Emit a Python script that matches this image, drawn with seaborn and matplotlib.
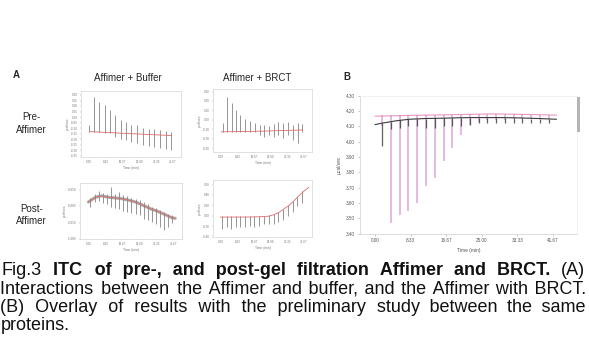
import numpy as np
import matplotlib
matplotlib.use("Agg")
import matplotlib.pyplot as plt
import seaborn as sns
from matplotlib.transforms import IdentityTransform
from matplotlib.patches import Rectangle

# ---------------- data ----------------
time_ticks = [0.0, 8.33, 16.67, 25.0, 33.33, 41.67]
time_ticklabels = ["0.00", "8.33", "16.67", "25.00", "33.33", "41.67"]

# Panel A1: pre-Affimer + buffer (normalised signal)
a1_inj_t = [0.0, 2.2, 5.0, 8.0, 10.5, 13.0, 15.8, 18.3, 20.8, 23.8, 26.7, 29.7, 32.5, 35.0, 38.0, 40.8]
a1_top = [0.49, 0.91, 0.84, 0.79, 0.71, 0.64, 0.56, 0.53, 0.49, 0.48, 0.44, 0.43, 0.42, 0.41, 0.39, 0.38]
a1_bot = [0.38, 0.38, 0.38, 0.37, 0.37, 0.31, 0.28, 0.26, 0.23, 0.21, 0.18, 0.17, 0.15, 0.13, 0.12, 0.11]
a1_base_t = [0.0, 10.0, 20.0, 30.0, 41.0]
a1_base = [0.385, 0.37, 0.355, 0.34, 0.325]
a1_yticks = [0.02, 0.104, 0.187, 0.271, 0.355, 0.438, 0.522, 0.605, 0.689, 0.773, 0.856, 0.94]
a1_yticklabels = ["-0.35", "-0.30", "-0.25", "-0.20", "-0.15", "-0.10", "-0.05", "0.00", "0.05", "0.10", "0.15", "0.20"]

# Panel A2: pre-Affimer + BRCT
a2_inj_t = [0.8, 3.0, 5.3, 7.6, 9.7, 12.1, 14.6, 16.8, 19.3, 21.5, 23.9, 26.4, 28.6, 31.1, 33.6, 36.1, 38.6, 40.6]
a2_top = [0.46, 0.88, 0.77, 0.67, 0.59, 0.53, 0.49, 0.46, 0.43, 0.43, 0.42, 0.44, 0.47, 0.46, 0.48, 0.43, 0.46, 0.44]
a2_bot = [0.32, 0.32, 0.32, 0.32, 0.32, 0.32, 0.32, 0.32, 0.27, 0.24, 0.27, 0.24, 0.27, 0.22, 0.27, 0.19, 0.14, 0.32]
a2_base_t = [0.0, 10.0, 20.0, 30.0, 41.0]
a2_base = [0.32, 0.325, 0.33, 0.34, 0.35]
a2_yticks = [0.06, 0.21, 0.36, 0.51, 0.66, 0.81, 0.957]
a2_yticklabels = ["-0.30", "-0.20", "-0.10", "0.00", "0.10", "0.20", "0.30"]

# Panel A3: post-Affimer + buffer
a3_inj_t = [1.0, 3.0, 5.0, 7.0, 9.0, 11.0, 13.0, 15.0, 17.0, 19.0, 21.0, 23.0, 25.0, 27.0, 29.0, 31.0, 33.0, 35.0, 37.0, 39.0, 41.0]
a3_top = [0.74, 0.80, 0.86, 0.82, 0.80, 0.92, 0.80, 0.84, 0.78, 0.76, 0.74, 0.72, 0.70, 0.66, 0.62, 0.58, 0.56, 0.52, 0.48, 0.44, 0.42]
a3_bot = [0.58, 0.66, 0.68, 0.64, 0.62, 0.58, 0.56, 0.54, 0.50, 0.48, 0.46, 0.44, 0.42, 0.36, 0.34, 0.30, 0.26, 0.22, 0.16, 0.22, 0.28]
a3_base_t = [0.0, 1.6, 3.2, 4.9, 6.5, 9.0, 11.4, 13.9, 16.3, 18.8, 21.2, 23.7, 26.1, 28.6, 31.0, 33.5, 35.9, 38.4, 40.8, 42.4]
a3_base = [0.66, 0.70, 0.74, 0.76, 0.77, 0.75, 0.74, 0.73, 0.72, 0.70, 0.68, 0.65, 0.61, 0.57, 0.53, 0.50, 0.46, 0.42, 0.38, 0.37]
a3_yticks = [0.0, 0.29, 0.59, 0.88]
a3_yticklabels = ["-1.000", "-0.950", "-0.900", "-0.850"]

# Panel A4: post-Affimer + BRCT
a4_inj_t = [0.4, 2.9, 5.1, 7.5, 9.7, 12.2, 14.4, 16.7, 19.0, 21.4, 23.9, 26.4, 28.6, 31.1, 33.5, 36.0, 38.2, 40.7]
a4_top = [0.37, 0.37, 0.37, 0.37, 0.37, 0.37, 0.37, 0.37, 0.37, 0.37, 0.38, 0.40, 0.44, 0.50, 0.555, 0.63, 0.71, 0.80]
a4_bot = [0.14, 0.17, 0.14, 0.17, 0.18, 0.18, 0.19, 0.18, 0.20, 0.22, 0.22, 0.23, 0.27, 0.30, 0.37, 0.44, 0.55, 0.60]
a4_base_t = [-0.4, 6.3, 13.0, 19.7, 23.9, 26.4, 28.9, 31.5, 34.0, 36.5, 39.0, 41.5, 44.0]
a4_base = [0.35, 0.35, 0.35, 0.355, 0.365, 0.39, 0.43, 0.49, 0.55, 0.63, 0.72, 0.80, 0.87]
a4_yticks = [0.01, 0.19, 0.37, 0.56, 0.74, 0.92]
a4_yticklabels = ["-0.40", "-0.20", "0.00", "0.20", "0.40", "0.60"]

# Panel B: overlay (ucal/sec)
b_inj_t = [1.7, 3.75, 5.8, 7.85, 9.9, 11.95, 14.0, 16.05, 18.1, 20.15,
           22.2, 24.25, 26.3, 28.35, 30.4, 32.45, 34.5, 36.55, 38.6, 40.65]
b_post_start = [4.170, 4.170, 4.170, 4.172, 4.172, 4.173, 4.174, 4.175, 4.176, 4.176,
                4.177, 4.178, 4.179, 4.180, 4.179, 4.178, 4.177, 4.176, 4.175, 4.174]
b_post_peak = [4.10, 3.47, 3.52, 3.55, 3.60, 3.71, 3.76, 3.87, 3.96, 4.04,
               4.11, 4.13, 4.14, 4.14, 4.14, 4.15, 4.15, 4.15, 4.15, 4.15]
b_pre_start = [4.12, 4.13, 4.138, 4.145, 4.148, 4.15, 4.152, 4.154, 4.155, 4.156,
               4.156, 4.156, 4.156, 4.155, 4.154, 4.153, 4.152, 4.150, 4.148, 4.146]
b_pre_peak = [3.97, 4.08, 4.09, 4.10, 4.10, 4.09, 4.09, 4.10, 4.10, 4.10,
              4.11, 4.12, 4.12, 4.12, 4.12, 4.12, 4.12, 4.12, 4.12, 4.12]
b_base_t = [0.0, 1.7, 5.0, 8.0, 12.0, 16.0, 20.0, 24.0, 28.0, 32.0, 36.0, 40.0, 42.5]
b_post_base = [4.165, 4.166, 4.168, 4.170, 4.172, 4.174, 4.176, 4.178, 4.180, 4.178, 4.176, 4.174, 4.172]
b_pre_base = [4.11, 4.12, 4.135, 4.145, 4.15, 4.152, 4.155, 4.156, 4.156, 4.155, 4.152, 4.148, 4.145]
b_yticks = [3.40, 3.50, 3.60, 3.70, 3.80, 3.90, 4.00, 4.10, 4.20, 4.30]

cap1_head = "Fig.3"
cap1_bold = "ITC of pre-, and post-gel filtration Affimer and BRCT."
cap1_tail = "(A)"
cap2 = "Interactions between the Affimer and buffer, and the Affimer with BRCT."
cap3 = "(B) Overlay of results with the preliminary study between the same"
cap4 = "proteins."

# ---------------- figure ----------------
sns.set_style("white")
plt.rcParams["font.family"] = ["Liberation Sans", "DejaVu Sans"]

W, H = 589, 348
fig = plt.figure(figsize=(W / 100, H / 100), dpi=100)


def px_axes(left, right, top, bottom):
    return fig.add_axes([left / W, 1 - bottom / H, (right - left) / W, (bottom - top) / H])


def fig_text(x, y, s, **kw):
    return fig.text(x / W, 1 - y / H, s, **kw)


def small_panel(rect, inj_t, top, bot, base_t, base, yticks, yticklabels, thick=False):
    ax = px_axes(*rect)
    if thick:
        sns.lineplot(x=base_t, y=base, ax=ax, color="#808080", lw=2.2, alpha=0.65)
    ax.vlines(inj_t, bot, top, color="#858585", lw=0.6)
    sns.lineplot(x=base_t, y=base, ax=ax, color="#e06a6a", lw=0.6)
    ax.set_xlim(-4.1, 45.7)
    ax.set_ylim(0, 1)
    ax.set_xticks(time_ticks)
    ax.set_xticklabels(time_ticklabels)
    ax.set_yticks(yticks)
    ax.set_yticklabels(yticklabels)
    ax.tick_params(labelsize=2.2, labelcolor="#777777", length=1, width=0.3,
                   color="#999999", pad=1.5, left=True, bottom=True)
    for s in ax.spines.values():
        s.set_color("#d5d5d5")
        s.set_linewidth(0.5)
    ax.set_xlabel("Time (min)", fontsize=2.4, color="#777777", labelpad=1)
    ax.set_ylabel("µcal/sec", fontsize=2.4, color="#777777", labelpad=1)
    return ax


small_panel((81, 181, 91, 157), a1_inj_t, a1_top, a1_bot, a1_base_t, a1_base, a1_yticks, a1_yticklabels)
small_panel((213, 312, 89, 152), a2_inj_t, a2_top, a2_bot, a2_base_t, a2_base, a2_yticks, a2_yticklabels)
small_panel((80, 182, 183, 239), a3_inj_t, a3_top, a3_bot, a3_base_t, a3_base, a3_yticks, a3_yticklabels, thick=True)
small_panel((213, 312, 180, 237), a4_inj_t, a4_top, a4_bot, a4_base_t, a4_base, a4_yticks, a4_yticklabels)

# Panel B
axb = px_axes(360, 577, 95.5, 233.5)
pink = "#d9a2d9"
dark = "#3a3a3a"
axb.vlines(b_inj_t, b_post_peak, b_post_start, color=pink, lw=1.1, alpha=0.95)
sns.lineplot(x=b_base_t, y=b_post_base, ax=axb, color="#e27fb0", lw=0.8, alpha=0.8)
axb.vlines(b_inj_t, b_pre_peak, b_pre_start, color=dark, lw=0.9, alpha=0.8)
sns.lineplot(x=b_base_t, y=b_pre_base, ax=axb, color=dark, lw=0.8)
axb.set_xlim(-3.5, 47.3)
axb.set_ylim(3.40, 4.30)
axb.set_xticks(time_ticks)
axb.set_xticklabels(time_ticklabels)
axb.set_yticks(b_yticks)
axb.set_yticklabels([f"{v:.2f}" for v in b_yticks])
axb.tick_params(labelsize=3.3, labelcolor="#555555", length=1.5, width=0.4,
                color="#999999", pad=2, left=True, bottom=True)
axb.set_xlabel("Time (min)", fontsize=3.5, color="#555555", labelpad=3)
axb.set_ylabel("µcal/sec", fontsize=3.5, color="#555555", labelpad=3)
for name, s in axb.spines.items():
    s.set_linewidth(0.5)
    s.set_color("#d0d0d0" if name in ("left", "bottom") else "#ececec")
fig.patches.append(Rectangle((577 / W, 1 - 132 / H), 2.5 / W, 35 / H,
                             transform=fig.transFigure, color="#b5b5b5", lw=0))

# Panel titles / labels
fig_text(16.7, 75, "A", fontsize=7, fontweight="bold", ha="center", va="center")
fig_text(346.7, 76.5, "B", fontsize=7, fontweight="bold", ha="center", va="center")
fig_text(128.3, 78, "Affimer + Buffer", fontsize=7, ha="center", va="center")
fig_text(256.7, 78, "Affimer + BRCT", fontsize=7, ha="center", va="center")
fig_text(31.7, 123.5, "Pre-\nAffimer", fontsize=7, ha="center", va="center", linespacing=1.35)
fig_text(31.7, 215, "Post-\nAffimer", fontsize=7, ha="center", va="center", linespacing=1.35)

# ---------------- justified caption ----------------
FS = 13.0
HS = "\u200a"  # hair space used to widen word gaps
fig.canvas.draw()
renderer = fig.canvas.get_renderer()


def text_w(s, bold=False):
    t = fig.text(0, 0, s, transform=IdentityTransform(), fontsize=FS,
                 fontweight="bold" if bold else "normal")
    w = t.get_window_extent(renderer).width
    t.remove()
    return w


def assemble(words, k_total):
    n = len(words) - 1
    base, rem = divmod(k_total, n)
    out = words[0]
    for i, w in enumerate(words[1:]):
        k = base + (1 if i < rem else 0)
        out += " " + HS * k + w
    return out


def justify(s, target_w, bold=False):
    words = s.split()
    hs = max((text_w("a" + HS * 10 + "a", bold) - text_w("aa", bold)) / 10.0, 0.3)
    k = 0
    for _ in range(4):
        diff = target_w - text_w(assemble(words, k), bold)
        k = max(0, k + int(round(diff / hs)))
    return assemble(words, k)


def put(x, ybase, s, bold=False, ha="left"):
    return fig.text(x, H - ybase, s, transform=IdentityTransform(), fontsize=FS,
                    fontweight="bold" if bold else "normal", ha=ha, va="baseline",
                    color="#111111")


# line 1: regular head, bold middle, regular tail
L1, R1, Y1 = 1.7, 585.5, 275.0
w_head = text_w(cap1_head)
w_tail = text_w(cap1_tail, False)
bold_words = cap1_bold.split()
sum_words = w_head + w_tail + sum(text_w(w, True) for w in bold_words)
gap = (R1 - L1 - sum_words) / (len(bold_words) + 1)
mid_target = R1 - L1 - w_head - w_tail - 2 * gap
put(L1, Y1, cap1_head)
put(L1 + w_head + gap, Y1, justify(cap1_bold, mid_target, True), bold=True)
put(R1, Y1, cap1_tail, ha="right")

# lines 2-4
put(0.5, 293.3, justify(cap2, 586.5))
put(0.5, 311.7, justify(cap3, 585.0))
put(0.5, 329.5, cap4)

fig.savefig("out.png", dpi=100, facecolor="white")
